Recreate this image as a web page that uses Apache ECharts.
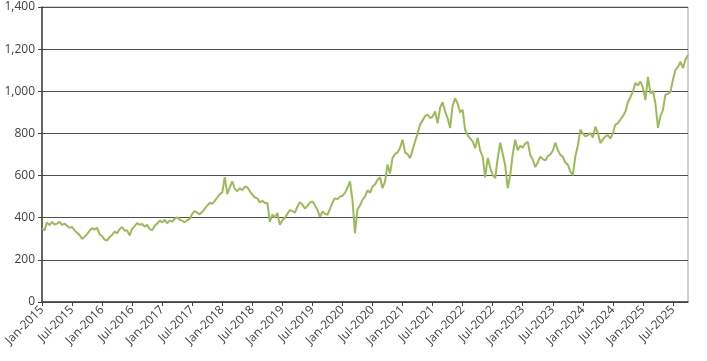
<!DOCTYPE html>
<html>
<head>
<meta charset="utf-8">
<script src="https://cdn.jsdelivr.net/npm/echarts@6/dist/echarts.min.js"></script>
<style>html,body{margin:0;padding:0;background:#fff}#c{width:707px;height:361px}</style>
</head>
<body>
<div id="c"></div>
<script>
// Tick labels every 6 months, starting Jan-2015
const tickLabels = ['Jan-2015','Jul-2015','Jan-2016','Jul-2016','Jan-2017','Jul-2017','Jan-2018','Jul-2018',
  'Jan-2019','Jul-2019','Jan-2020','Jul-2020','Jan-2021','Jul-2021','Jan-2022','Jul-2022','Jan-2023','Jul-2023',
  'Jan-2024','Jul-2024','Jan-2025','Jul-2025'];
// Index level, two readings per month from Jan-2015 to Oct-2025
const indexValues = [
  350,340, 378,365, 380,368, 372,380, 366,372, 362,352,
  356,340, 328,318, 299,310, 322,338, 350,344, 352,322,
  312,296, 292,308, 318,334, 326,345, 356,338, 340,316,
  348,360, 374,366, 370,358, 366,346, 340,362, 372,386,
  378,390, 374,386, 382,396, 402,390, 386,378, 388,394,
  418,432, 424,416, 428,442, 458,470, 466,480, 496,512,
  520,592, 512,545, 572,536, 526,540, 530,548, 544,526,
  510,496, 492,472, 480,470, 470,380, 415,402, 422,366,
  388,400, 418,436, 432,424, 452,474, 462,444, 456,472,
  478,458, 438,404, 430,418, 414,442, 472,492, 488,500,
  504,518, 542,572, 484,327, 440,458, 486,500, 530,518,
  548,558, 580,592, 540,572, 652,610, 684,702, 710,732,
  770,710, 702,682, 722,762, 800,842, 862,882, 890,872,
  880,904, 848,922, 948,904, 872,826, 932,966, 942,900,
  912,816, 792,776, 762,730, 780,718, 690,592, 684,638,
  604,588, 682,756, 702,648, 540,602, 702,770, 720,742,
  732,752, 760,698, 676,640, 662,690, 678,672, 692,700,
  718,756, 722,698, 690,662, 652,618, 602,690, 742,818,
  800,786, 792,802, 780,832, 802,754, 772,786, 792,776,
  802,842, 848,866, 882,904, 948,972, 998,1040, 1028,1046,
  1016,958, 1068,990, 1002,942, 826,882, 912,984, 988,998,
  1056,1102, 1116,1140, 1110,1150, 1172
];
const yMin = 0, yMax = 1400, yStep = 200;

const chart = echarts.init(document.getElementById('c'), null, {renderer: 'canvas'});
const seriesData = indexValues.map((v, i) => [i / 2, v]);
const font = '"Open Sans", "Noto Sans", sans-serif';
chart.setOption({
  animation: false,
  grid: {left: 42, right: 19, top: 7, bottom: 59, show: true, borderColor: '#a0a0a0', borderWidth: 1},
  xAxis: {
    type: 'value', min: 0, max: (indexValues.length - 1) / 2, interval: 6,
    axisLine: {show: true, lineStyle: {color: '#404040', width: 1.5}},
    axisTick: {show: true, length: 4, lineStyle: {color: '#404040'}},
    splitLine: {show: false},
    axisLabel: {
      rotate: 45, fontSize: 12, color: '#404040', fontFamily: font, margin: 6,
      showMaxLabel: false,
      formatter: v => tickLabels[Math.round(v / 6)] || ''
    }
  },
  yAxis: {
    type: 'value', min: yMin, max: yMax, interval: yStep,
    axisLine: {show: true, lineStyle: {color: '#404040', width: 1.5}},
    axisTick: {show: true, length: 4, lineStyle: {color: '#404040'}},
    splitLine: {show: true, lineStyle: {color: '#505050', width: 1}},
    axisLabel: {fontSize: 12, color: '#404040', fontFamily: font, margin: 7,
      formatter: v => v.toLocaleString('en-US')}
  },
  series: [{
    type: 'line', data: seriesData, showSymbol: false, symbol: 'none',
    lineStyle: {color: '#9bbb59', width: 2}, itemStyle: {color: '#9bbb59'}
  }]
});
</script>
</body>
</html>
